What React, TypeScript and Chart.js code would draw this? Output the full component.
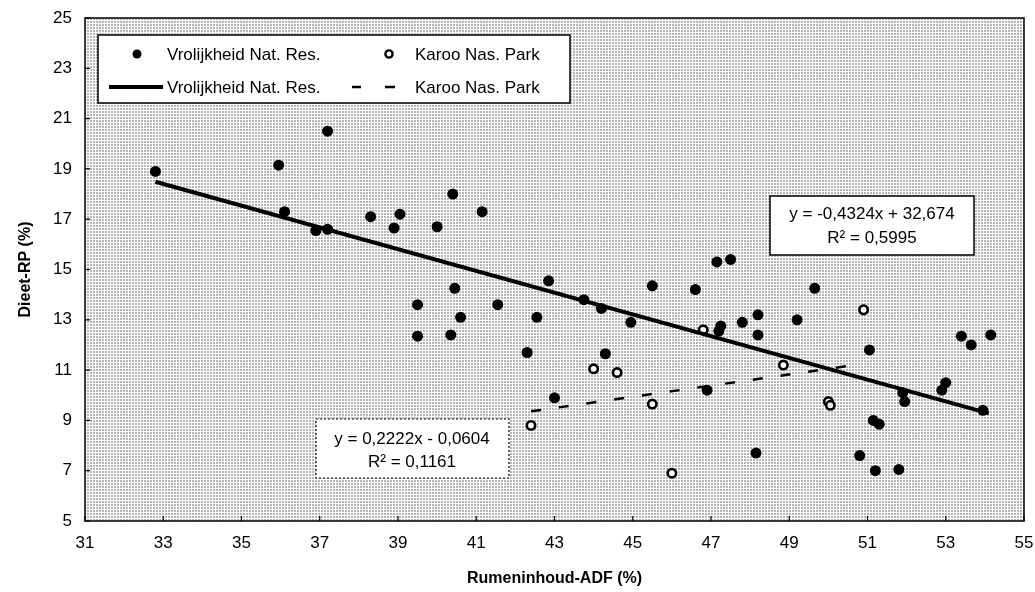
import React, { useEffect, useRef } from "react";
import { Chart, registerables } from "chart.js";

Chart.register(...registerables);

// ---- data ----
const vrolX = [32.8, 35.95, 36.1, 36.9, 37.2, 37.2, 38.3, 38.9, 39.05, 39.5, 39.5, 40.0, 40.35, 40.4, 40.45, 40.6, 41.15, 41.55, 42.3, 42.55, 42.85, 43.0, 43.75, 44.2, 44.3, 44.95, 45.5, 46.6, 46.9, 47.15, 47.2, 47.25, 47.5, 47.8, 48.15, 48.2, 48.2, 49.2, 49.65, 50.8, 51.05, 51.15, 51.2, 51.3, 51.8, 51.9, 51.95, 52.9, 53.0, 53.4, 53.65, 53.95, 54.15];
const vrolY = [18.9, 19.15, 17.3, 16.55, 16.6, 20.5, 17.1, 16.65, 17.2, 13.6, 12.35, 16.7, 12.4, 18.0, 14.25, 13.1, 17.3, 13.6, 11.7, 13.1, 14.55, 9.9, 13.8, 13.45, 11.65, 12.9, 14.35, 14.2, 10.2, 15.3, 12.55, 12.75, 15.4, 12.9, 7.7, 13.2, 12.4, 13.0, 14.25, 7.6, 11.8, 9.0, 7.0, 8.85, 7.05, 10.1, 9.75, 10.2, 10.5, 12.35, 12.0, 9.4, 12.4];
const karooX = [42.4, 44.0, 44.6, 45.5, 46.0, 46.8, 48.85, 50.0, 50.05, 50.9];
const karooY = [8.8, 11.05, 10.9, 9.65, 6.9, 12.6, 11.2, 9.75, 9.6, 13.4];
const vrolTrendX = [32.8, 54.1];
const vrolTrendY = [18.49, 9.28];
const karooTrendX = [42.4, 50.9];
const karooTrendY = [9.36, 11.25];
const xTicks = [31, 33, 35, 37, 39, 41, 43, 45, 47, 49, 51, 53, 55];
const yTicks = [5, 7, 9, 11, 13, 15, 17, 19, 21, 23, 25];
const seriesNames = ["Vrolijkheid Nat. Res.", "Karoo Nas. Park"];
const eqVrol = ["y = -0,4324x + 32,674", "R² = 0,5995"];
const eqKaroo = ["y = 0,2222x - 0,0604", "R² = 0,1161"];
const xTitle = "Rumeninhoud-ADF (%)";
const yTitle = "Dieet-RP (%)";

const FONT = "'Liberation Sans', Arial, sans-serif";

const zip = (xs: number[], ys: number[]) => xs.map((x, i) => ({ x, y: ys[i] }));

const decorPlugin = {
  id: "decor",
  beforeDatasetsDraw(chart: any) {
    const { ctx, chartArea: a } = chart;
    const tile = document.createElement("canvas");
    tile.width = 3;
    tile.height = 3;
    const t = tile.getContext("2d")!;
    t.fillStyle = "#ffffff";
    t.fillRect(0, 0, 3, 3);
    t.fillStyle = "#b6b6b6";
    t.fillRect(0, 0, 2, 2);
    const pat = ctx.createPattern(tile, "repeat");
    ctx.save();
    ctx.fillStyle = pat;
    ctx.fillRect(a.left, a.top, a.right - a.left, a.bottom - a.top);
    // frame
    ctx.strokeStyle = "#000";
    ctx.lineWidth = 1.5;
    ctx.strokeRect(a.left, a.top, a.right - a.left, a.bottom - a.top);
    // inward ticks
    const xs = chart.scales.x;
    const ys = chart.scales.y;
    ctx.lineWidth = 1.2;
    ctx.beginPath();
    xTicks.forEach((v) => {
      const px = xs.getPixelForValue(v);
      ctx.moveTo(px, a.bottom);
      ctx.lineTo(px, a.bottom - 5);
    });
    yTicks.forEach((v) => {
      const py = ys.getPixelForValue(v);
      ctx.moveTo(a.left, py);
      ctx.lineTo(a.left + 5, py);
    });
    ctx.stroke();
    ctx.restore();
  },
  afterDatasetsDraw(chart: any) {
    const { ctx } = chart;
    ctx.save();
    ctx.font = `17px ${FONT}`;
    ctx.textBaseline = "middle";
    ctx.fillStyle = "#000";
    // legend box
    ctx.fillStyle = "#fff";
    ctx.fillRect(98, 35, 472, 68);
    ctx.strokeStyle = "#000";
    ctx.lineWidth = 1.5;
    ctx.strokeRect(98, 35, 472, 68);
    ctx.fillStyle = "#000";
    // row 1 markers
    ctx.beginPath();
    ctx.arc(137, 54, 4.5, 0, Math.PI * 2);
    ctx.fill();
    ctx.beginPath();
    ctx.lineWidth = 2.4;
    ctx.arc(389, 54, 3.6, 0, Math.PI * 2);
    ctx.stroke();
    ctx.textAlign = "left";
    ctx.fillText(seriesNames[0], 167, 55);
    ctx.fillText(seriesNames[1], 415, 55);
    // row 2 lines
    ctx.lineWidth = 4;
    ctx.beginPath();
    ctx.moveTo(109, 87);
    ctx.lineTo(163, 87);
    ctx.stroke();
    ctx.lineWidth = 2.5;
    ctx.beginPath();
    ctx.moveTo(352, 87);
    ctx.lineTo(361, 87);
    ctx.moveTo(385, 87);
    ctx.lineTo(395, 87);
    ctx.stroke();
    ctx.fillText(seriesNames[0], 167, 88);
    ctx.fillText(seriesNames[1], 415, 88);

    // equation box 1
    ctx.fillStyle = "#fff";
    ctx.fillRect(770, 196, 204, 59);
    ctx.lineWidth = 1.5;
    ctx.strokeRect(770, 196, 204, 59);
    ctx.fillStyle = "#000";
    ctx.textAlign = "center";
    ctx.fillText(eqVrol[0], 872, 214);
    ctx.fillText(eqVrol[1], 872, 238);

    // equation box 2
    ctx.fillStyle = "#fff";
    ctx.fillRect(316, 419, 193, 59);
    ctx.lineWidth = 1.2;
    ctx.setLineDash([2, 2]);
    ctx.strokeRect(316, 419, 193, 59);
    ctx.setLineDash([]);
    ctx.fillStyle = "#000";
    ctx.fillText(eqKaroo[0], 412, 439);
    ctx.fillText(eqKaroo[1], 412, 462);
    ctx.restore();
  },
};

export default function App() {
  const ref = useRef<HTMLCanvasElement>(null);
  useEffect(() => {
    const chart = new Chart(ref.current!, {
      type: "scatter",
      data: {
        datasets: [
          {
            label: seriesNames[0] + " trend",
            data: zip(vrolTrendX, vrolTrendY),
            showLine: true,
            borderColor: "#000",
            borderWidth: 4,
            pointRadius: 0,
            fill: false,
          },
          {
            label: seriesNames[1] + " trend",
            data: zip(karooTrendX, karooTrendY),
            showLine: true,
            borderColor: "#000",
            borderWidth: 2.5,
            borderDash: [10, 18],
            pointRadius: 0,
            fill: false,
          },
          {
            label: seriesNames[0],
            data: zip(vrolX, vrolY),
            pointRadius: 5.5,
            pointBackgroundColor: "#000",
            pointBorderColor: "#000",
            pointBorderWidth: 0,
          },
          {
            label: seriesNames[1],
            data: zip(karooX, karooY),
            pointRadius: 4.2,
            pointBackgroundColor: "rgba(255,255,255,0.9)",
            pointBorderColor: "#000",
            pointBorderWidth: 2.6,
          },
        ],
      },
      options: {
        animation: false,
        responsive: false,
        events: [],
        layout: { padding: { top: 18, right: 11, left: 0, bottom: 0 } },
        plugins: { legend: { display: false }, tooltip: { enabled: false } },
        scales: {
          x: {
            type: "linear",
            min: 31,
            max: 55,
            afterBuildTicks: (s: any) => {
              s.ticks = xTicks.map((v) => ({ value: v }));
            },
            afterFit: (s: any) => {
              s.height = 71;
              s.paddingLeft = 0;
              s.paddingRight = 0;
            },
            grid: { display: false, drawTicks: false },
            border: { display: false },
            ticks: {
              color: "#000",
              padding: 12,
              maxRotation: 0,
              font: { family: FONT, size: 17 },
            },
            title: {
              display: true,
              text: xTitle,
              color: "#000",
              font: { family: FONT, size: 16, weight: "bold" },
              padding: { top: 0, bottom: 4 },
            },
          },
          y: {
            type: "linear",
            min: 5,
            max: 25,
            afterBuildTicks: (s: any) => {
              s.ticks = yTicks.map((v) => ({ value: v }));
            },
            afterFit: (s: any) => {
              s.width = 85;
              s.paddingTop = 0;
              s.paddingBottom = 0;
            },
            grid: { display: false, drawTicks: false },
            border: { display: false },
            ticks: {
              color: "#000",
              padding: 13,
              font: { family: FONT, size: 17 },
            },
            title: {
              display: true,
              text: yTitle,
              color: "#000",
              font: { family: FONT, size: 16, weight: "bold" },
              padding: { top: 16, bottom: 0 },
            },
          },
        },
      },
      plugins: [decorPlugin],
    });
    return () => chart.destroy();
  }, []);
  return (
    <div style={{ position: "absolute", left: 0, top: 0, width: 1035, height: 592, background: "#fff" }}>
      <canvas ref={ref} width={1035} height={592} style={{ display: "block" }} />
    </div>
  );
}
